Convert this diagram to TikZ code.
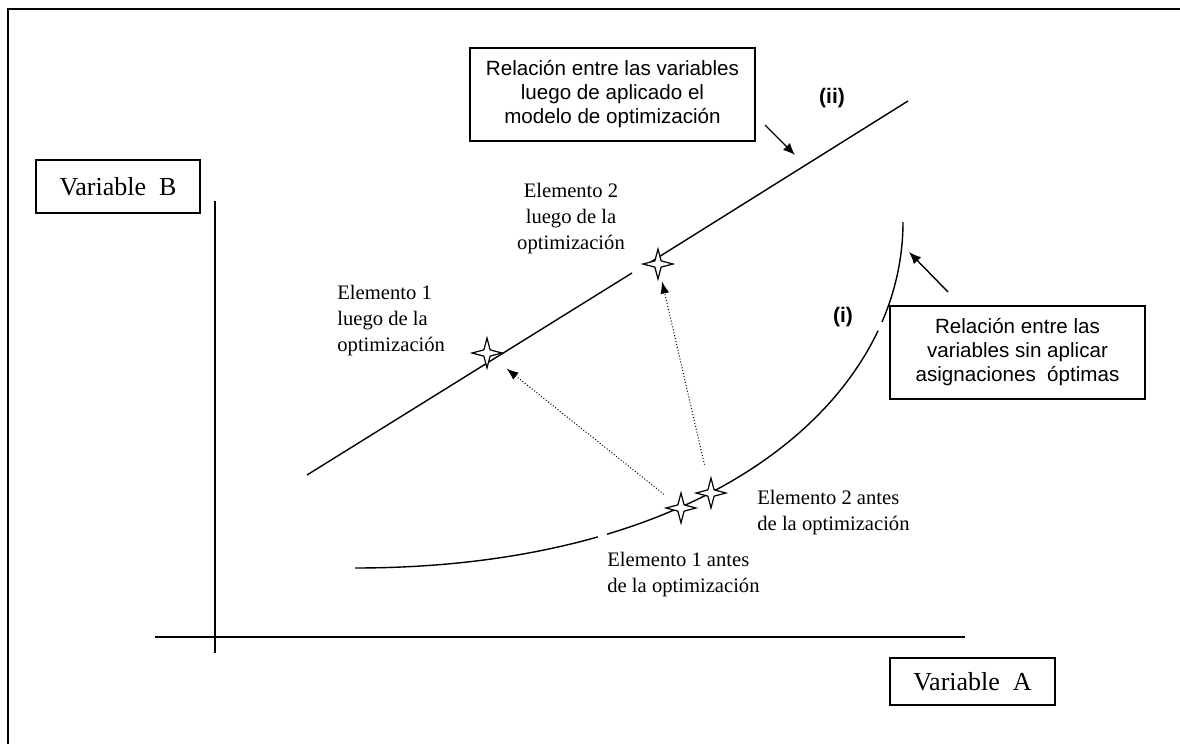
\documentclass[tikz,border=0pt]{standalone}
\usepackage{fontspec}
\setmainfont{Liberation Serif}
\setsansfont{Liberation Sans}
\usetikzlibrary{shapes.geometric,arrows.meta}

\begin{document}
\begin{tikzpicture}[x=0.5pt,y=-0.5pt,
  caja/.style={draw, line width=0.7pt, inner sep=0pt},
  cajasans/.style={caja, align=center, font=\sffamily\fontsize{10.3}{12}\selectfont},
  etiqueta/.style={inner sep=0pt, font=\fontsize{10.3}{13}\selectfont},
  romano/.style={inner sep=0pt, font=\sffamily\bfseries\fontsize{10.5}{12}\selectfont},
  estrella/.style={star, star points=4, star point ratio=3.4, minimum size=15pt, inner sep=0pt, draw, fill=white, line width=0.6pt},
  flecha/.style={-{Latex[length=6pt,width=5pt]}, line width=0.7pt},
  punteada/.style={-{Latex[length=6pt,width=4.5pt]}, densely dotted, line width=0.5pt},
  hueco/.style={circle, fill=white, minimum size=5pt, inner sep=0pt}]
\useasboundingbox (0,0) rectangle (1180,744);
% marco
\draw[line width=1pt] (8,744) -- (8,9) -- (1180,9);
% ejes
\draw[line width=1pt] (215,201) -- (215,653);
\draw[line width=1pt] (155,637) -- (965,637);
% curva (i)
\draw[line width=0.7pt] (355,568) .. controls (710,568) and (903,400) .. (903,222)
  node[hueco, pos=0.265] {} node[hueco, pos=0.8] {};
% recta (ii)
\draw[line width=0.7pt] (307,475) -- (632,273);
\draw[line width=0.7pt] (646,265) -- (908,101);
% estrellas
\node[estrella] (E1d) at (487,353) {};
\node[estrella] (E2d) at (658,264) {};
\node[estrella] (E1a) at (681,508) {};
\node[estrella] (E2a) at (711,493) {};
\draw[punteada, shorten <=11pt, shorten >=12.5pt] (E1a.center) -- (E1d.center);
\draw[punteada, shorten <=14.5pt, shorten >=9pt] (E2a.center) -- (E2d.center);
% cajas
\node[caja, minimum width=82pt, minimum height=26.5pt, font=\fontsize{13}{15}\selectfont] (varB) at (118,186.5) {Variable\ \ B};
\node[caja, minimum width=82.5pt, minimum height=23.5pt, font=\fontsize{13}{15}\selectfont] (varA) at (972.5,681.5) {Variable\ \ A};
\node[cajasans, minimum width=142.5pt, minimum height=46.5pt] (cajaii) at (612.5,94.5)
  {Relación entre las variables\\luego de aplicado el\\modelo de optimización};
\node[cajasans, minimum width=127.5pt, minimum height=46.5pt] (cajai) at (1017.5,352.5)
  {Relación entre las\\variables sin aplicar\\asignaciones\ \ óptimas};
\coordinate (fii) at (765,125);
\coordinate (fiit) at (795,155);
\coordinate (fi) at (948,292);
\coordinate (fit) at (909,252);
\draw[flecha] (fii) -- (fiit);
\draw[flecha] (fi) -- (fit);
\node[romano] (ii) at (832,98) {(ii)};
\node[romano] (i) at (843,317) {(i)};
% etiquetas
\node[etiqueta, align=center] (tE2d) at (571,219) {Elemento 2\\luego de la\\optimización};
\node[etiqueta, align=left, anchor=west] (tE1d) at (337,321) {Elemento 1\\luego de la\\optimización};
\node[etiqueta, align=left, anchor=west] (tE2a) at (757,513) {Elemento 2 antes\\de la optimización};
\node[etiqueta, align=left, anchor=west] (tE1a) at (607,575) {Elemento 1 antes\\de la optimización};
\end{tikzpicture}
\end{document}
